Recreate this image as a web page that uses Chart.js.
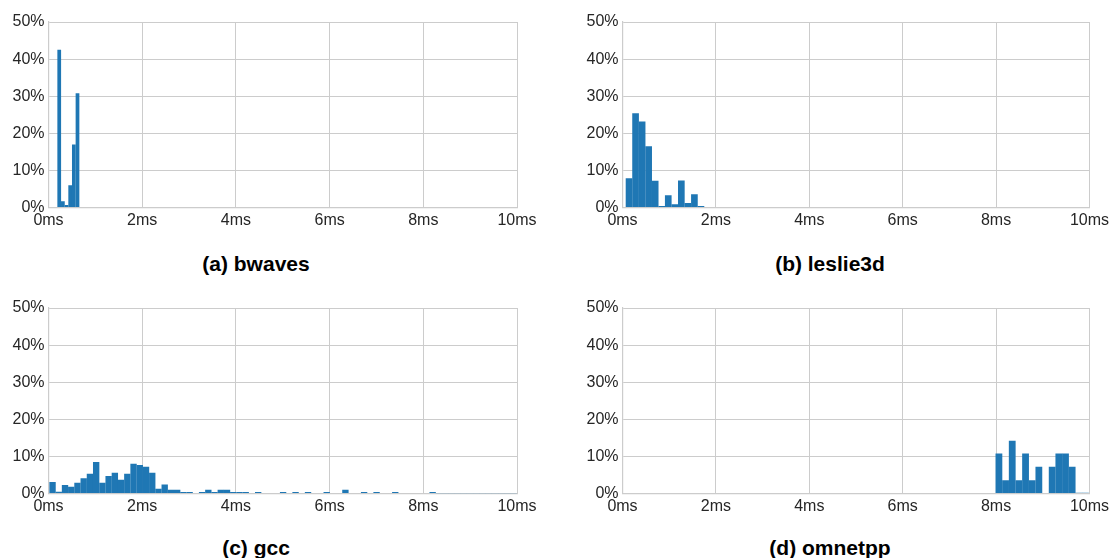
<!DOCTYPE html>
<html>
<head>
<meta charset="utf-8">
<script src="https://cdn.jsdelivr.net/npm/chart.js@4"></script>
<style>
    body { margin: 0; background: #fff; }
    #wrap { position: relative; width: 1112px; height: 558px; overflow: hidden; }
    canvas { position: absolute; }
    .title {
        position: absolute;
        width: 300px;
        text-align: center;
        font: bold 21px "Liberation Sans", Arial, sans-serif;
        color: #000;
    }
</style>
</head>
<body>
<div id="wrap">
    <canvas id="chartA" style="left:0px;top:0px;width:556px;height:240px"></canvas>
    <canvas id="chartB" style="left:574px;top:0px;width:538px;height:240px"></canvas>
    <canvas id="chartC" style="left:0px;top:286px;width:556px;height:240px"></canvas>
    <canvas id="chartD" style="left:574px;top:286px;width:538px;height:240px"></canvas>
    <div class="title" style="left:106px;top:252px">(a) bwaves</div>
    <div class="title" style="left:680px;top:252px">(b) leslie3d</div>
    <div class="title" style="left:106px;top:536px">(c) gcc</div>
    <div class="title" style="left:680px;top:536px">(d) omnetpp</div>
</div>
<script>
// histogram bins: first bin start (ms), bin width (ms), percent per bin
const bwavesStart = 0.19;
const bwavesWidth = 0.078;
const bwavesValues = [42.5, 1.7, 0.7, 6.0, 17.0, 30.8];

const leslieStart = 0.07;
const leslieWidth = 0.14;
const leslieValues = [7.9, 25.4, 23.2, 16.5, 7.2, 0.4, 3.3, 0.9, 7.3, 1.2, 3.6, 0.4];

const gccStart = 0.02;
const gccWidth = 0.133;
const gccValues = [
    3.1, 0.45, 2.3, 1.8, 2.9, 4.1, 5.3, 8.5, 2.9, 4.7,
    5.6, 3.7, 5.3, 8.0, 7.7, 7.2, 5.6, 1.25, 2.4, 1.0,
    1.0, 0.4, 0.4, 0, 0.4, 1.0, 0.4, 1.0, 1.0, 0.4,
    0.4, 0.4, 0, 0.4, 0, 0, 0, 0.4, 0, 0.4,
    0, 0.4, 0, 0, 0.4, 0, 0, 1.0, 0, 0,
    0.4, 0, 0.4, 0, 0, 0.4, 0, 0, 0, 0,
    0, 0.4, 0.1, 0.1, 0.1, 0.1, 0.1, 0.1, 0.1, 0.1,
    0.1, 0.1, 0.1, 0.1, 0.1
];

const omnetStart = 7.99;
const omnetWidth = 0.1426;
const omnetValues = [10.75, 3.6, 14.2, 3.6, 10.75, 3.6, 7.2, 0, 7.2, 10.75, 10.75, 7.2, 0.2, 0.2];

const xTicks = [0, 2, 4, 6, 8, 10];   // ms
const yTicks = [0, 10, 20, 30, 40, 50]; // %

Chart.defaults.font.family = '"Liberation Sans", Arial, sans-serif';
Chart.defaults.font.size = 16;
Chart.defaults.color = "#262626";

function makeHist(id, start, width, values) {
    const points = values.map(function (v, i) {
        return { x: start + width * (i + 0.5), y: v };
    });
    const ctx = document.getElementById(id).getContext("2d");
    return new Chart(ctx, {
        type: "bar",
        data: {
            datasets: [
                {
                    data: points,
                    backgroundColor: "#1f77b4",
                    borderWidth: 0,
                    barPercentage: 1.02,
                    categoryPercentage: 1,
                },
            ],
        },
        options: {
            responsive: false,
            animation: false,
            layout: { padding: { top: 22, right: id === "chartA" || id === "chartC" ? 39 : 22 } },
            plugins: { legend: { display: false } },
            scales: {
                x: {
                    type: "linear",
                    min: xTicks[0],
                    max: xTicks[xTicks.length - 1],
                    offset: false,
                    grid: { color: "#cccccc", offset: false, drawTicks: false },
                    border: { color: "#cccccc", width: 1.2 },
                    afterBuildTicks: function (axis) {
                        axis.ticks = xTicks.map(function (v) { return { value: v }; });
                    },
                    afterFit: function (axis) { axis.height = 32.5; },
                    ticks: {
                        padding: 3,
                        autoSkip: false,
                        maxRotation: 0,
                        callback: function (v) { return v + "ms"; },
                    },
                },
                y: {
                    min: yTicks[0],
                    max: yTicks[yTicks.length - 1],
                    grid: { color: "#cccccc", drawTicks: false },
                    border: { color: "#cccccc", width: 1.2 },
                    afterBuildTicks: function (axis) {
                        axis.ticks = yTicks.map(function (v) { return { value: v }; });
                    },
                    afterFit: function (axis) { axis.width = 48.5; },
                    ticks: {
                        padding: 4,
                        callback: function (v) { return v + "%"; },
                    },
                },
            },
        },
    });
}

document.addEventListener("DOMContentLoaded", function () {
    ["chartA", "chartB", "chartC", "chartD"].forEach(function (id) {
        const c = document.getElementById(id);
        c.width = parseInt(c.style.width);
        c.height = parseInt(c.style.height);
    });
    makeHist("chartA", bwavesStart, bwavesWidth, bwavesValues);
    makeHist("chartB", leslieStart, leslieWidth, leslieValues);
    makeHist("chartC", gccStart, gccWidth, gccValues);
    makeHist("chartD", omnetStart, omnetWidth, omnetValues);
});
</script>
</body>
</html>
